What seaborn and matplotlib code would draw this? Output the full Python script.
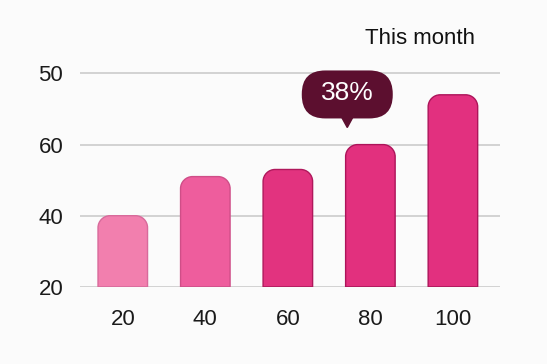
import matplotlib
matplotlib.use("Agg")
import pandas as pd
import matplotlib.pyplot as plt
import seaborn as sns
from matplotlib.path import Path
from matplotlib.patches import PathPatch, FancyBboxPatch

# データ
categories = ["20", "40", "60", "80", "100"]
values = [40, 51, 53, 60, 74]
bar_colors = ["#f27fae", "#ee5d9d", "#e2337f", "#e2307e", "#e2307f"]
edge_colors = ["#d86a9b", "#cf4e88", "#b0185c", "#ad145a", "#ad145a"]
y_ticks = [20, 40, 60, 80]
y_tick_labels = ["20", "40", "60", "50"]
note_text = "38%"
title_text = "This month"

BG = "#fbfbfb"
NOTE_COLOR = "#5c0f2f"

sns.set_theme(style="white")
plt.rcParams['font.family'] = ['Liberation Sans', 'DejaVu Sans']

df = pd.DataFrame({"cat": categories, "val": values})

fig = plt.figure(figsize=(5.47, 3.64), dpi=100, facecolor=BG)
ax = fig.add_axes([0.146, 0.212, 0.768, 0.635])
ax.set_facecolor(BG)

sns.barplot(data=df, x="cat", y="val", hue="cat", order=categories,
            palette=bar_colors, width=0.6, legend=False, ax=ax)

ax.set_xlim(-0.52, 4.57)
ax.set_ylim(20, 85)

# 角丸の棒に置き換える
fig.canvas.draw()
px_x = ax.transData.transform((1, 0))[0] - ax.transData.transform((0, 0))[0]
px_y = ax.transData.transform((0, 1))[1] - ax.transData.transform((0, 0))[1]
r_px = 12
rx, ry = r_px / px_x, r_px / px_y
k = 0.552


def rounded_top(x0, x1, y0, y1):
    verts = [(x0, y0), (x0, y1 - ry),
             (x0, y1 - ry + k * ry), (x0 + rx - k * rx, y1), (x0 + rx, y1),
             (x1 - rx, y1),
             (x1 - rx + k * rx, y1), (x1, y1 - ry + k * ry), (x1, y1 - ry),
             (x1, y0), (x0, y0)]
    codes = [Path.MOVETO, Path.LINETO,
             Path.CURVE4, Path.CURVE4, Path.CURVE4,
             Path.LINETO,
             Path.CURVE4, Path.CURVE4, Path.CURVE4,
             Path.LINETO, Path.CLOSEPOLY]
    return Path(verts, codes)


bars = list(ax.patches)
for i, p in enumerate(bars):
    x0 = p.get_x()
    x1 = x0 + p.get_width()
    top = p.get_y() + p.get_height()
    p.set_visible(False)
    ax.add_patch(PathPatch(rounded_top(x0, x1, 20, top), fc=bar_colors[i],
                           ec=edge_colors[i], lw=1.0, zorder=3))

# グリッド・軸
ax.set_axisbelow(True)
ax.yaxis.grid(True, color="#cccccc", lw=1.2)
ax.xaxis.grid(False)
for s in ax.spines.values():
    s.set_visible(False)
ax.set_yticks(y_ticks)
ax.set_yticklabels(y_tick_labels)
ax.tick_params(axis="y", length=0, pad=12, labelsize=16, labelcolor="#1a1a1a")
ax.tick_params(axis="x", length=0, pad=16, labelsize=16, labelcolor="#1a1a1a")
ax.set_xlabel("")
ax.set_ylabel("")

# 吹き出し
note_x, note_y, note_tip = 2.72, 74.4, 64.8
bw, bh = 91 / px_x, 48 / px_y
box = FancyBboxPatch((note_x - bw / 2, note_y - bh / 2 - 0.3), bw, bh,
                     boxstyle="round,pad=0,rounding_size=%f" % (23.5 / px_x),
                     mutation_aspect=px_x / px_y, fc=NOTE_COLOR, ec="none",
                     zorder=5, clip_on=False)
ax.add_patch(box)
hw = 6.5 / px_x
base = note_y - bh / 2 + 0.5
ax.fill([note_x - hw, note_x + hw, note_x], [base, base, note_tip],
        color=NOTE_COLOR, zorder=5, clip_on=False)
ax.text(note_x, note_y, note_text, ha="center", va="center", color="white",
        fontsize=19, zorder=6, clip_on=False)

fig.text(475 / 547, 1 - 38 / 364, title_text, ha="right", va="center",
         fontsize=16, color="#111111")

fig.savefig("out.png", dpi=100, facecolor=BG)
